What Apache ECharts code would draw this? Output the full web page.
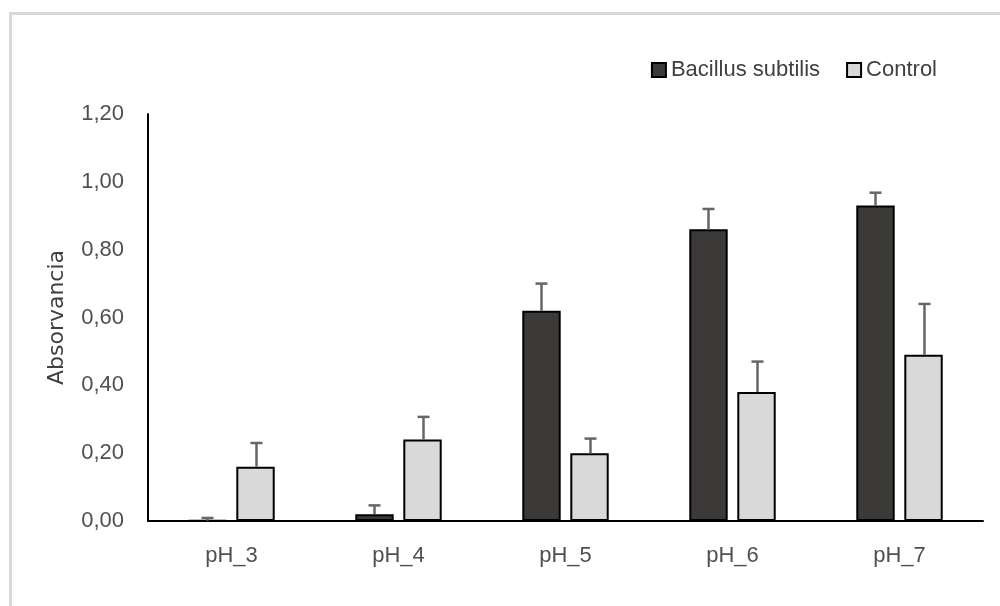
<!DOCTYPE html>
<html>
<head>
<meta charset="utf-8">
<script src="https://cdn.jsdelivr.net/npm/echarts@6/dist/echarts.min.js"></script>
<style>html,body{margin:0;padding:0;background:#fff}#c{width:1000px;height:606px}</style>
</head>
<body>
<div id="c"></div>
<script>
var categories = ['pH_3', 'pH_4', 'pH_5', 'pH_6', 'pH_7'];
var bacillus = [0.001, 0.02, 0.62, 0.86, 0.93];
var bacillusErr = [0.008, 0.026, 0.08, 0.06, 0.038];
var control = [0.16, 0.24, 0.20, 0.38, 0.49];
var controlErr = [0.07, 0.067, 0.043, 0.09, 0.15];
var yTicks = [0, 0.2, 0.4, 0.6, 0.8, 1.0, 1.2];

var BAR_W = 0.23, GAP = 0.25;

function errSeries(vals, errs, side) {
  return {
    type: 'custom',
    z: 5,
    silent: true,
    data: vals.map(function (v, i) { return [i, v, v + errs[i]]; }),
    renderItem: function (params, api) {
      var band = api.size([1, 0])[0];
      var bw = band * BAR_W;
      var off = side * (bw + bw * GAP) / 2;
      var base = api.coord([api.value(0), api.value(1)]);
      var top = api.coord([api.value(0), api.value(2)]);
      var x = Math.round(base[0] + off) + 0.5;
      var style = { stroke: '#666666', lineWidth: 2.5 };
      return {
        type: 'group',
        children: [
          { type: 'line', shape: { x1: x, y1: base[1], x2: x, y2: top[1] }, style: style },
          { type: 'line', shape: { x1: x - 6, y1: top[1], x2: x + 6, y2: top[1] }, style: style }
        ]
      };
    }
  };
}

var chart = echarts.init(document.getElementById('c'));
chart.setOption({
  animation: false,
  graphic: [{
    type: 'rect', silent: true, z: -1,
    shape: { x: 10.5, y: 13.5, width: 1100, height: 700 },
    style: { fill: 'none', stroke: '#d9d9d9', lineWidth: 3 }
  }],
  legend: {
    right: 58, top: 54,
    itemWidth: 14, itemHeight: 14, itemGap: 26,
    textStyle: { fontFamily: 'Liberation Sans', fontSize: 22, color: '#404040' },
    data: [
      { name: 'Bacillus subtilis', icon: 'rect', itemStyle: { color: '#3b3a38', borderColor: '#000', borderWidth: 2 } },
      { name: 'Control', icon: 'rect', itemStyle: { color: '#d9d9d9', borderColor: '#000', borderWidth: 2 } }
    ]
  },
  grid: { left: 148, right: 17, top: 114, bottom: 85 },
  xAxis: {
    type: 'category',
    data: categories,
    axisLine: { lineStyle: { color: '#000', width: 2 } },
    axisTick: { show: false },
    axisLabel: { fontFamily: 'Liberation Sans', fontSize: 22, color: '#505050', margin: 24 }
  },
  yAxis: {
    type: 'value',
    min: 0, max: 1.2, interval: 0.2,
    name: 'Absorvancia',
    nameLocation: 'middle',
    nameGap: 80,
    nameTextStyle: { fontFamily: 'DejaVu Sans', fontSize: 22, color: '#404040' },
    axisLine: { show: true, lineStyle: { color: '#000', width: 2 } },
    axisTick: { show: false },
    splitLine: { show: false },
    axisLabel: {
      fontFamily: 'Liberation Sans', fontSize: 22, color: '#505050', margin: 24,
      formatter: function (v) {
        var t = yTicks.filter(function (x) { return Math.abs(x - v) < 1e-9; });
        return t.length ? t[0].toFixed(2).replace('.', ',') : '';
      }
    }
  },
  series: [
    {
      name: 'Bacillus subtilis', type: 'bar', data: bacillus,
      barWidth: (BAR_W * 100) + '%', barGap: (GAP * 100) + '%',
      itemStyle: { color: '#3b3a38', borderColor: '#000', borderWidth: 2 }
    },
    {
      name: 'Control', type: 'bar', data: control,
      barWidth: (BAR_W * 100) + '%', barGap: (GAP * 100) + '%',
      itemStyle: { color: '#d9d9d9', borderColor: '#000', borderWidth: 2 }
    },
    errSeries(bacillus, bacillusErr, -1),
    errSeries(control, controlErr, 1)
  ]
});
</script>
</body>
</html>
